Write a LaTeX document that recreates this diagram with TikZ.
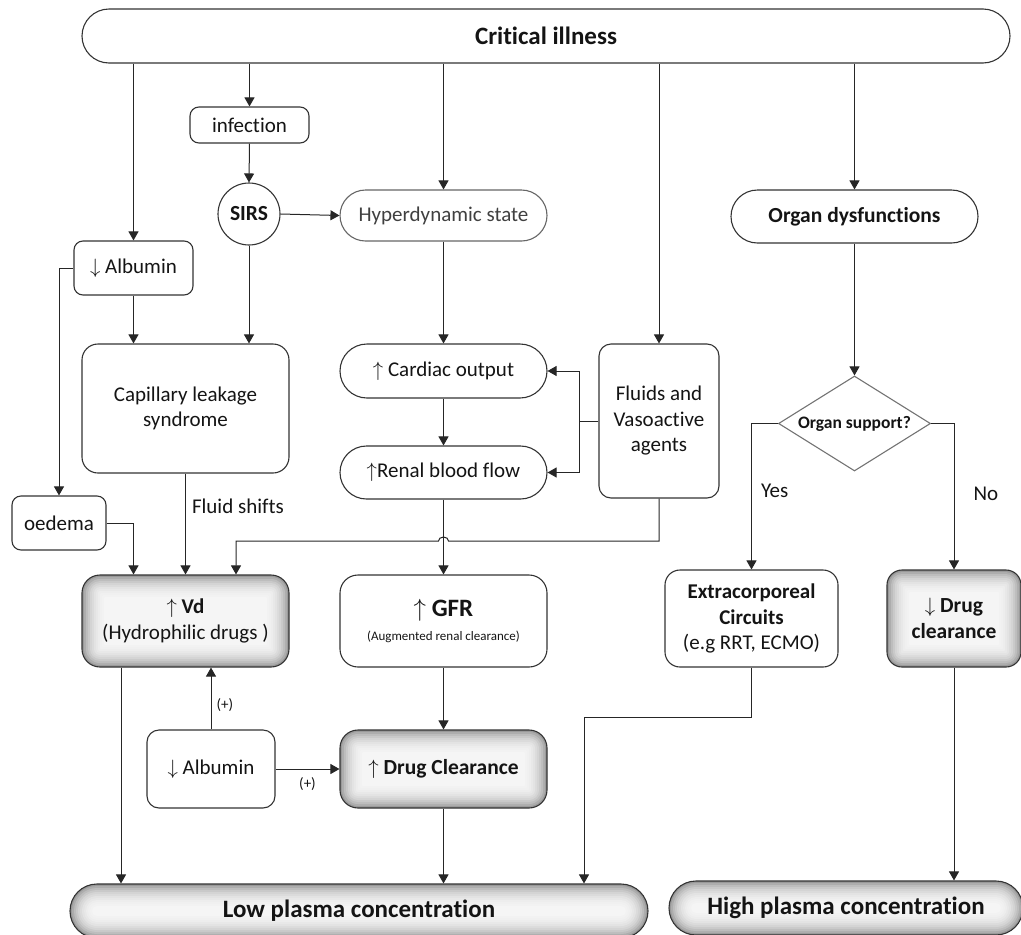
\documentclass[tikz,border=0pt]{standalone}
\usepackage{fontspec}
\setmainfont{Carlito}[Ligatures={NoCommon}]
\usetikzlibrary{arrows.meta,shapes.geometric,shapes.misc,calc}
\newcommand{\fReg}{\fontsize{21}{25.5}\selectfont}
\newcommand{\fBold}{\fontsize{21.5}{26}\selectfont\bfseries}
\newcommand{\fHuge}{\fontsize{25}{30}\selectfont\bfseries}
\newcommand{\fDia}{\fontsize{17.5}{21}\selectfont\bfseries}
\newcommand{\fPlus}{\fontsize{15}{18}\selectfont}
\newcommand{\fTiny}{\fontsize{13}{16}\selectfont}
\newcommand{\uparr}{$\uparrow$}
\newcommand{\dnarr}{$\downarrow$}
\begin{document}
\begin{tikzpicture}[x=1pt,y=-1pt,
  ln/.style={draw=black!85, line width=1pt},
  arr/.style={ln, -{Triangle[length=9pt,width=10pt]}},
  bx/.style={draw=black!80, line width=1.1pt, align=center, text=black!92, font=\fReg, inner sep=0pt},
  pill/.style={bx, rounded rectangle},
  rr/.style={bx, rectangle, rounded corners=#1},
  rr/.default=10pt,
  shd/.style={fill=white, path picture={
    \foreach \ii/\gv in {0/40,2/32,4/26,6/21,8/17,10/14,12/11,14/9,16/7,18/6,20/5,22/4}{
      \pgfmathsetmacro{\rad}{max(#1-\ii,1)}
      \fill[black!\gv, rounded corners=\rad pt]
        ([shift={(\ii pt,\ii pt)}]path picture bounding box.south west) rectangle
        ([shift={(-\ii pt,-\ii pt)}]path picture bounding box.north east);
    }}},
  lbl/.style={font=\fReg, text=black!92, inner sep=0pt}
]
\useasboundingbox (0,0) rectangle (1021,935);

% nodes
\node[pill, font=\fHuge, minimum width=928pt, minimum height=54pt] (crit) at (546,36) {Critical illness};
\node[rr=9pt, minimum width=119pt, minimum height=36pt] (inf) at (249.5,125) {infection};
\node[bx, circle, minimum size=62pt, font=\fBold] (sirs) at (249,214) {SIRS};
\node[pill, draw=black!60, text=black!75, minimum width=207pt, minimum height=51pt] (hyp) at (443.5,215.5) {Hyperdynamic state};
\node[pill, font=\fBold, minimum width=247pt, minimum height=53pt] (org) at (854.5,216.5) {Organ dysfunctions};
\node[rr=9pt, minimum width=119pt, minimum height=54pt] (alb1) at (133.5,268) {\dnarr\ Albumin};
\node[rr=9pt, minimum width=94pt, minimum height=54pt] (oed) at (59,523) {oedema};
\node[rr=16pt, minimum width=207pt, minimum height=129pt] (cap) at (185.5,408.5) {Capillary leakage\\syndrome};
\node[pill, minimum width=207pt, minimum height=54pt] (co) at (443.5,371) {\uparr\ Cardiac output};
\node[pill, minimum width=207pt, minimum height=53pt] (rbf) at (443.5,472.5) {\uparr Renal blood flow};
\node[rr=12pt, minimum width=120pt, minimum height=154pt] (flu) at (659,421) {Fluids and\\Vasoactive\\agents};
\node[rr=18pt, shd=18, minimum width=207pt, minimum height=92pt] (vd) at (185.5,621) {\uparr\ \textbf{Vd}\\[1pt](Hydrophilic drugs )};
\node[rr=18pt, minimum width=207pt, minimum height=92pt] (gfr) at (443.5,621) {{\fHuge \uparr\ GFR}\\[-1pt]{\fTiny (Augmented renal clearance)}};
\node[bx, diamond, draw=black!55, aspect=1.6, font=\fDia, minimum width=152pt, minimum height=95pt] (dia) at (854.5,423.5) {Organ support?};
\node[rr=15pt, minimum width=173pt, minimum height=97pt] (ext) at (751.5,618.5) {\textbf{Extracorporeal}\\\textbf{Circuits}\\(e.g RRT, ECMO)};
\node[rr=15pt, shd=15, font=\fBold, minimum width=134pt, minimum height=97pt] (dcr) at (954,618.5) {\dnarr\ Drug\\clearance};
\node[rr=12pt, minimum width=128pt, minimum height=78pt] (alb2) at (211,769) {\dnarr\ Albumin};
\node[rr=18pt, shd=18, font=\fBold, minimum width=207pt, minimum height=78pt] (dc) at (443.5,769) {\uparr\ Drug Clearance};
\node[pill, shd=27, font=\fHuge, minimum width=578pt, minimum height=54pt] (low) at (359,911) {Low plasma concentration};
\node[pill, shd=27, font=\fHuge, minimum width=354pt, minimum height=54pt] (high) at (846,908) {High plasma concentration};

% helper coordinates
\coordinate (hopy) at (0,541);
\coordinate (vdx) at (236,0);
\coordinate (vdl) at (121,0);
\coordinate (lowx) at (584,0);

% connectors from Critical illness
\draw[arr] (crit.south -| alb1) -- (alb1.north);
\draw[arr] (crit.south -| inf) -- (inf.north);
\draw[arr] (crit.south -| hyp) -- (hyp.north);
\draw[arr] (crit.south -| flu) -- (flu.north);
\draw[arr] (crit.south -| org) -- (org.north);

\draw[arr] (inf.south) -- (sirs.north);
\draw[arr] (sirs.east) -- (hyp.west);
\draw[arr] (sirs.south) -- (sirs.south |- cap.north);
\draw[arr] (alb1.south) -- (alb1.south |- cap.north);
\draw[arr] (alb1.west) -| (oed.north);
\draw[arr] (cap.south) -- node[pos=0.32, right=6pt, lbl] {Fluid shifts} (vd.north);
\draw[arr] (oed.east) -| (vd.north -| alb1);

\draw[arr] (hyp.south) -- (co.north);
\draw[arr] (co.south) -- (rbf.north);
\draw[arr] (rbf.south) -- (gfr.north);
\draw[arr] (flu.west) -- ++(-19,0) |- (co.east);
\draw[arr] (flu.west) -- ++(-19,0) |- (rbf.east);
\draw[arr] (flu.south) |- ([xshift=5pt]rbf.south |- hopy) arc[start angle=0, end angle=180, x radius=5pt, y radius=4pt] -- (vdx |- hopy) -- (vdx |- vd.north);

\draw[arr] (gfr.south) -- (dc.north);
\draw[arr] (alb2.north) -- node[pos=0.4, right=5pt, lbl, font=\fPlus] {(+)} (alb2.north |- vd.south);
\draw[arr] (alb2.east) -- node[midway, below=8pt, lbl, font=\fPlus] {(+)} (dc.west);
\draw[arr] (vdl |- vd.south) -- (vdl |- low.north);
\draw[arr] (dc.south) -- (dc.south |- low.north);

\draw[arr] (org.south) -- (dia.north);
\draw[arr] (dia.west) -| node[pos=0.73, right=9pt, lbl] {Yes} (ext.north);
\draw[arr] (dia.east) -| node[pos=0.74, right=19pt, lbl] {No} (dcr.north);
\draw[arr] (ext.south) -- ++(0,50) -| (lowx |- low.north);
\draw[arr] (dcr.south) -- (dcr.south |- high.north);
\end{tikzpicture}
\end{document}
